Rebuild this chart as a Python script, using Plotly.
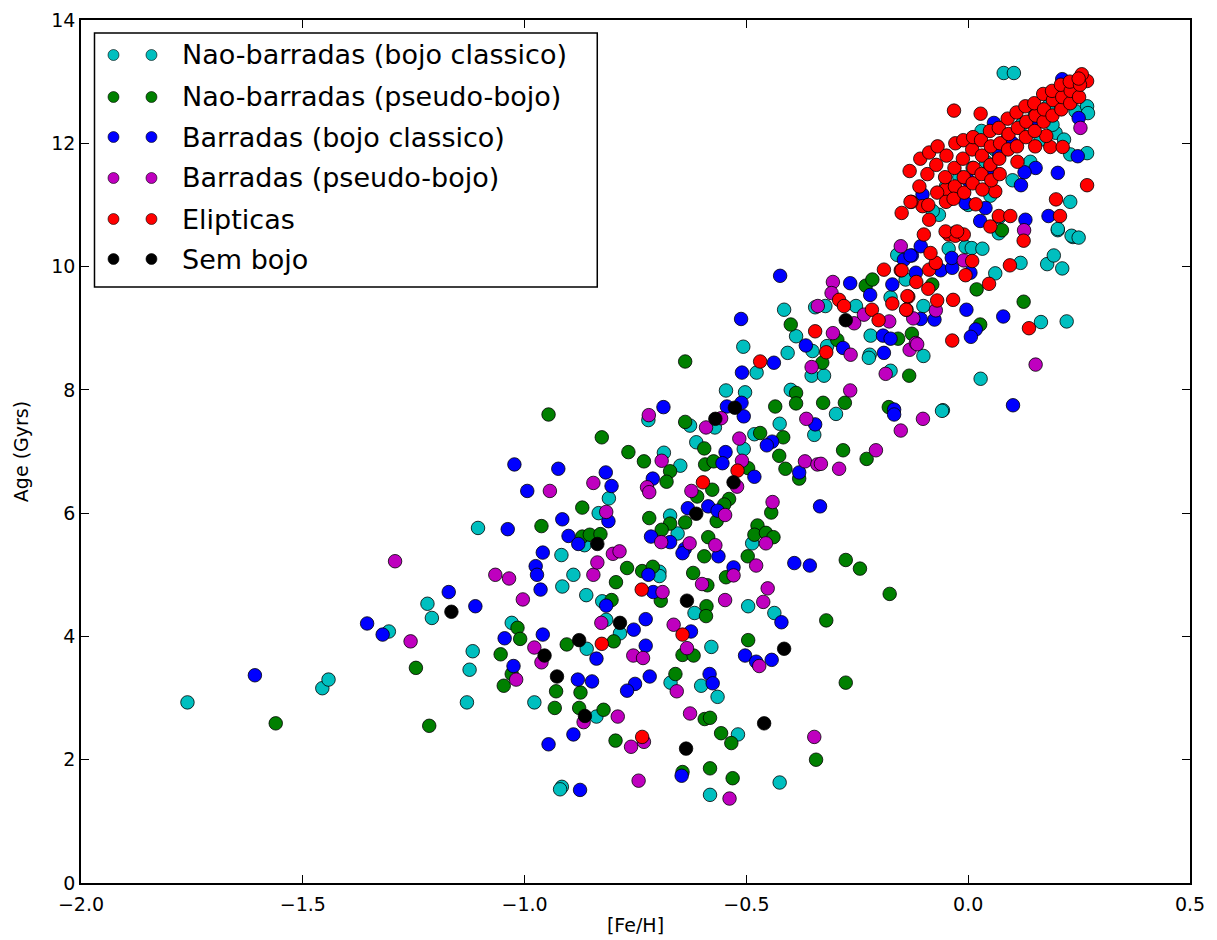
import plotly.graph_objects as go

# ---------------- data ----------------
cyan_x = [-1.760, -1.456, -1.442, -1.306, -1.219, -1.209, -1.105, -1.117, -1.124, -1.130, -0.810, -0.833, -0.865, -0.917,
          -0.890, -0.915, -0.861, -0.825, -1.029, -0.860, -0.978, -0.838, -0.916, -0.920,
          -0.546, -0.503, -0.400, -0.721, -0.627, -0.571, -0.347, -0.425, -0.482, -0.506, -0.686, -0.649, -0.613, -0.672,
          -0.655, -0.487, -0.696, -0.696, -0.617, -0.496, -0.437, -0.816, -0.785, -0.579, -0.671, -0.602, -0.565, -0.519,
          -0.425, -0.582, -0.298, -0.057, -0.415, -0.388, -0.507, -0.407, -0.477, -0.351, -0.318, -0.353, -0.325, -0.175,
          -0.222, -0.224, -0.220, -0.345, -0.322, -0.253, -0.175, -0.160, -0.141, 0.118, 0.178, 0.193, 0.212, 0.202,
          0.236, 0.061, 0.164, 0.028, -0.059, -0.101, -0.101, -0.044, -0.006, 0.008, 0.032, 0.069, 0.080, 0.103,
          0.242, 0.268, 0.270, 0.197, 0.216, 0.163, 0.230, 0.268, 0.230, 0.202, 0.233, -0.066, 0.249, 0.222,
          -0.05, -0.02, 0.01, 0.04, 0.06, 0.09, 0.12, 0.15, 0.18, 0.21, 0.00, 0.05, 0.10, 0.14, 0.19, -0.08, 0.03, 0.07, -0.03]
cyan_y = [2.93, 3.16, 3.30, 4.08, 4.53, 4.30, 5.76, 3.76, 3.46, 2.93, 6.24, 6.00, 5.48, 5.32,
          5.00, 4.81, 4.67, 4.57, 4.22, 3.80, 2.93, 2.70, 1.56, 1.52,
          7.99, 7.96, 8.00, 7.51, 7.42, 7.39, 7.27, 7.45, 7.28, 7.04, 6.98, 6.77, 7.15, 5.96,
          5.67, 5.51, 5.05, 4.98, 4.38, 4.49, 4.38, 4.27, 4.05, 3.83, 3.25, 3.20, 3.02, 2.41,
          1.63, 1.43, 7.61, 7.67, 9.30, 8.87, 8.70, 8.60, 8.28, 8.63, 8.71, 8.23, 8.23, 8.31,
          8.57, 8.52, 8.88, 9.34, 9.36, 9.36, 9.50, 10.19, 9.79, 10.06, 10.04, 10.18, 9.97, 10.59,
          10.48, 9.89, 9.10, 8.18, 7.66, 8.55, 9.36, 10.29, 10.32, 10.30, 10.29, 10.54, 13.14, 13.14,
          12.52, 12.60, 12.49, 12.17, 12.06, 12.06, 11.82, 11.84, 11.05, 10.61, 10.50, 10.84, 10.47, 9.11,
          11.30, 11.45, 11.60, 11.70, 11.90, 12.10, 12.30, 12.45, 12.60, 12.75, 11.00, 11.15, 11.40, 11.70, 12.30, 10.90, 12.20, 10.80, 10.55]

green_x = [-1.561, -1.245, -1.215, -0.946, -0.826, -0.870, -0.962, -0.870, -0.853, -0.829, -0.794, -0.804, -1.016, -1.010,
           -1.054, -1.029, -1.047, -0.905, -0.799, -0.929, -0.874, -0.932, -0.877, -0.822, -0.795,
           -0.388, -0.388, -0.435, -0.638, -0.417, -0.469, -0.766, -0.731, -0.672, -0.680, -0.595, -0.593, -0.574, -0.496,
           -0.611, -0.577, -0.426, -0.412, -0.381, -0.719, -0.672, -0.638, -0.539, -0.550, -0.567, -0.444, -0.691, -0.586,
           -0.475, -0.482, -0.456, -0.439, -0.595, -0.497,
           -0.769, -0.735, -0.711, -0.693, -0.620, -0.546, -0.588, -0.590, -0.591, -0.644, -0.619, -0.496, -0.660, -0.594,
           -0.582, -0.557, -0.534, -0.343, -0.644, -0.582, -0.531,
           -0.327, -0.278, -0.179, -0.282, -0.229, -0.276, -0.244, -0.177, -0.320, -0.276,
           -0.400, -0.295, -0.329, -0.133, -0.158, -0.127, -0.231, -0.216,
           0.019, 0.125, 0.027, -0.081, 0.076, -0.638]
green_y = [2.59, 3.49, 2.55, 7.60, 7.23, 6.09, 5.79, 5.62, 5.65, 5.66, 4.88, 4.59, 4.14, 3.96,
           3.71, 3.39, 3.20, 3.87, 3.92, 3.11, 3.09, 2.84, 2.84, 2.81, 2.31,
           7.95, 7.78, 7.73, 7.48, 7.23, 7.30, 6.99, 6.84, 6.68, 6.51, 7.05, 6.79, 6.84, 6.73,
           6.27, 6.38, 6.93, 6.72, 6.56, 5.92, 5.83, 5.85, 6.23, 6.14, 5.87, 6.01, 5.73, 5.61,
           5.80, 5.65, 5.68, 5.61, 5.30, 5.30,
           5.11, 5.06, 5.13, 4.58, 5.03, 4.96, 4.83, 4.49, 4.33, 3.70, 3.69, 3.94, 3.39, 2.66,
           2.68, 2.43, 2.27, 2.00, 1.80, 1.86, 1.70,
           7.79, 7.79, 7.72, 7.02, 6.88, 5.24, 5.10, 4.69, 4.26, 3.25,
           9.06, 8.81, 8.44, 8.23, 8.83, 8.91, 9.69, 9.79,
           9.63, 9.43, 9.06, 9.71, 10.59, 8.46]

blue_x = [-1.608, -1.355, -1.320, -1.171, -1.111, -1.023, -0.924, -0.817, -0.804, -0.994, -0.811, -1.038, -0.915, -0.901,
          -0.879, -0.959, -0.975, -0.972, -0.964, -0.816, -1.045, -0.959, -1.025, -0.838, -0.880, -0.848, -0.890, -0.946,
          -0.875,
          -0.687, -0.544, -0.511, -0.506, -0.345, -0.442, -0.454, -0.547, -0.554, -0.482, -0.381, -0.711, -0.632, -0.586,
          -0.565, -0.715, -0.672, -0.639, -0.644, -0.563,
          -0.721, -0.710, -0.529, -0.421, -0.392, -0.357, -0.727, -0.754, -0.727, -0.625, -0.503, -0.478, -0.443, -0.718,
          -0.751, -0.769, -0.583, -0.576, -0.646,
          -0.167, -0.167, -0.334,
          -0.424, -0.512, -0.438, -0.510, -0.366, -0.282, -0.190, -0.192, -0.175, -0.266, -0.221, -0.171, -0.145, -0.127,
          -0.004, 0.079, 0.017, 0.006, 0.101, -0.107, -0.076, -0.118, -0.062, -0.036, 0.005, -0.037, -0.107, -0.130,
          0.058, 0.212, 0.249, 0.247, 0.152, 0.127, 0.202, 0.119, 0.181, 0.129, 0.027, -0.006, 0.039, -0.103,
          0.00, 0.05, 0.10, 0.15, 0.20, -0.04, 0.17, 0.07, 0.23]
blue_y = [3.37, 4.21, 4.03, 4.72, 4.49, 6.79, 6.72, 6.66, 6.44, 6.36, 5.87, 5.74, 5.90, 5.63,
          5.50, 5.36, 5.14, 5.00, 4.76, 4.50, 3.97, 4.03, 3.52, 3.64, 3.30, 3.27, 2.41, 2.25,
          1.51,
          7.72, 7.73, 7.79, 7.57, 7.44, 7.16, 7.10, 6.99, 6.81, 6.59, 6.66, 6.56, 6.08, 6.11,
          6.04, 5.62, 5.53, 5.42, 5.35, 5.30,
          5.00, 4.72, 5.12, 4.23, 5.19, 5.15, 4.28, 4.11, 3.85, 4.08, 3.69, 3.59, 3.62, 3.35,
          3.23, 3.12, 3.39, 3.24, 1.74,
          7.68, 7.60, 6.11,
          9.85, 9.15, 8.44, 8.28, 8.72, 8.68, 8.60, 8.88, 8.83, 9.73, 9.54, 9.71, 10.11, 10.18,
          9.30, 9.19, 8.98, 8.86, 7.75, 9.15, 9.14, 9.90, 9.94, 9.98, 9.90, 10.14, 10.33, 10.18,
          12.33, 13.04, 12.41, 11.79, 11.60, 11.53, 11.52, 11.32, 10.82, 10.76, 10.74, 11.03, 10.95, 11.17,
          11.40, 11.60, 12.00, 12.30, 12.80, 11.10, 12.50, 11.80, 12.90]

magenta_x = [-1.292, -1.257, -0.845, -0.943, -0.816, -0.801, -1.066, -1.035, -0.845, -0.836, -1.004, -0.978, -0.962, -1.019,
             -0.867, -0.790,
             -0.720, -0.591, -0.557, -0.365, -0.516, -0.691, -0.510, -0.521, -0.624, -0.368, -0.340, -0.724, -0.719, -0.548,
             -0.441, -0.692, -0.628, -0.570, -0.456, -0.786,
             -0.689, -0.529, -0.478, -0.600, -0.548, -0.452, -0.462, -0.827, -0.755, -0.733, -0.664, -0.634, -0.471, -0.657,
             -0.627, -0.760, -0.731, -0.347, -0.743, -0.538,
             -0.102, -0.152, -0.208, -0.332, -0.291,
             -0.265, -0.305, -0.353, -0.266, -0.186, -0.132, -0.118, -0.339, -0.305, -0.308, -0.257, -0.235, -0.178, -0.152,
             0.152, -0.115, -0.124, -0.073, -0.010, 0.253, 0.126]
magenta_y = [5.22, 3.92, 6.49, 6.36, 6.02, 5.34, 5.00, 4.94, 5.00, 5.20, 4.60, 3.82, 3.58, 3.30,
             2.61, 2.70,
             7.59, 7.39, 7.54, 7.53, 7.21, 6.85, 6.85, 6.43, 6.36, 6.84, 6.79, 6.42, 6.34, 5.97,
             6.18, 5.53, 5.51, 5.48, 5.51, 5.38,
             4.72, 4.99, 5.15, 4.85, 4.59, 4.78, 4.56, 4.22, 3.69, 3.65, 4.19, 3.81, 3.52, 3.11,
             2.75, 2.21, 2.29, 2.37, 1.66, 1.37,
             7.53, 7.34, 7.02, 6.80, 6.72,
             8.57, 8.92, 8.37, 7.99, 8.26, 8.65, 8.76, 9.36, 9.75, 9.57, 9.08, 9.22, 9.11, 10.33,
             8.41, 8.74, 9.16, 9.29, 10.10, 12.25, 10.59]

red_x = [-0.826, -0.520, -0.598, -0.736, -0.644, -0.735, -0.469, -0.345, -0.320, -0.291, -0.280, -0.190, -0.152, -0.217,
         -0.202, -0.171, -0.135, -0.139, 0.094, 0.125, 0.047, -0.034, 0.137, -0.036, -0.070, -0.137, -0.140, -0.090,
         -0.117, -0.088, -0.006, 0.009, -0.073, -0.085, -0.100, -0.044, -0.029, -0.010, -0.150, -0.032, 0.028, 0.268,
         0.198, 0.207, 0.050, 0.069, 0.095, 0.061, 0.017, -0.103, -0.088, -0.051, -0.025, -0.051, 0.185, 0.213,
         0.176, 0.268, 0.256, -0.150, -0.128,
         -0.13, -0.132, -0.11, -0.108, -0.09, -0.092, -0.088, -0.07, -0.072, -0.069, -0.05, -0.052, -0.049,
         -0.03, -0.031, -0.029, -0.033, -0.01, -0.012, -0.009, -0.011, 0.01, 0.012, 0.009, 0.011,
         0.03, 0.031, 0.029, 0.032, 0.05, 0.051, 0.049, 0.052, 0.07, 0.072, 0.069, 0.071,
         0.09, 0.091, 0.089, 0.11, 0.112, 0.109, 0.111, 0.13, 0.131, 0.129,
         0.15, 0.152, 0.149, 0.151, 0.17, 0.171, 0.169, 0.19, 0.191, 0.189,
         0.21, 0.212, 0.209, 0.23, 0.231, 0.229, 0.25, 0.252, 0.249]
red_y = [3.88, 6.69, 6.50, 4.76, 4.03, 2.37, 8.46, 8.95, 8.61, 9.46, 9.36, 9.95, 9.94, 9.30,
         9.13, 9.40, 9.51, 9.30, 10.02, 10.42, 9.72, 9.46, 9.00, 8.80, 9.45, 9.52, 9.30, 9.64,
         9.75, 9.95, 9.86, 10.09, 10.06, 10.22, 10.52, 10.52, 10.50, 10.52, 9.94, 12.53, 12.48, 11.32,
         11.09, 10.82, 10.65, 10.82, 10.82, 11.22, 11.01, 10.98, 10.76, 10.57, 10.57, 11.25, 11.94, 11.94,
         12.12, 13.01, 13.12, 10.87, 11.05,
         11.05, 11.55, 11.30, 11.75, 11.00, 11.50, 11.85, 11.20, 11.65, 11.95, 11.05, 11.45, 11.80,
         11.30, 11.60, 12.00, 11.10, 11.45, 11.75, 11.20, 12.05, 11.35, 11.60, 11.90, 12.10,
         11.50, 11.80, 12.05, 11.25, 11.65, 11.95, 12.20, 11.40, 11.75, 12.00, 12.25, 11.50,
         11.90, 12.15, 12.40, 11.95, 12.25, 12.50, 11.70, 12.10, 12.35, 12.60,
         12.20, 12.45, 12.65, 11.95, 12.35, 12.55, 12.80, 12.45, 12.70, 12.85,
         12.55, 12.75, 12.95, 12.65, 12.85, 13.00, 12.75, 12.95, 13.05]

black_x = [-1.165, -0.836, -0.955, -0.877, -0.927, -0.864, -0.526, -0.570, -0.529, -0.613, -0.634, -0.785, -0.415, -0.460,
           -0.636, -0.276]
black_y = [4.40, 5.50, 3.69, 3.94, 3.35, 2.71, 7.71, 7.53, 6.50, 5.99, 4.58, 4.22, 3.80, 2.59,
           2.18, 9.13]

series_names = ["Nao-barradas (bojo classico)", "Nao-barradas (pseudo-bojo)", "Barradas (bojo classico)",
                "Barradas (pseudo-bojo)", "Elipticas", "Sem bojo"]
series_colors = ["#00BFBF", "#008000", "#0000FF", "#BF00BF", "#FF0000", "#000000"]
series_data = [(cyan_x, cyan_y), (green_x, green_y), (blue_x, blue_y), (magenta_x, magenta_y),
               (red_x, red_y), (black_x, black_y)]

x_ticks = [-2.0, -1.5, -1.0, -0.5, 0.0, 0.5]
y_ticks = [0, 2, 4, 6, 8, 10, 12, 14]

# ---------------- figure ----------------
W, H = 1217, 940
L, R, T, B = 80.5, 27, 20, 57
pw, ph = W - L - R, H - T - B

fig = go.Figure()
for (xs, ys), name, col in zip(series_data, series_names, series_colors):
    fig.add_trace(go.Scatter(x=xs, y=ys, mode="markers", name=name, showlegend=False,
                             marker=dict(size=13.5, color=col, line=dict(color="#000000", width=0.8))))

font = "DejaVu Sans, Bitstream Vera Sans, sans-serif"

# custom legend (two markers per entry, like matplotlib numpoints=2)
def px2paper(px, py):
    return (px - L) / pw, (H - B - py) / ph

shapes = []
annotations = []
x0, y0 = px2paper(94, 33)
x1, y1 = px2paper(597, 287)
shapes.append(dict(type="rect", xref="paper", yref="paper", x0=x0, y0=y1, x1=x1, y1=y0,
                   line=dict(color="#000000", width=1.5), fillcolor="white", layer="above"))
row_y = [55, 97, 137, 178, 219, 259]
r = 5.5
for i, (name, col) in enumerate(zip(series_names, series_colors)):
    for mx in (113, 151):
        a0, b0 = px2paper(mx - r, row_y[i] + r)
        a1, b1 = px2paper(mx + r, row_y[i] - r)
        shapes.append(dict(type="circle", xref="paper", yref="paper", x0=a0, y0=b0, x1=a1, y1=b1,
                           fillcolor=col, line=dict(color="#000000", width=0.6), layer="above"))
    tx, ty = px2paper(180, row_y[i])
    annotations.append(dict(xref="paper", yref="paper", x=tx, y=ty, text=name, showarrow=False,
                            xanchor="left", yanchor="middle", font=dict(family=font, size=27, color="#000000")))

fig.update_layout(
    width=W, height=H,
    margin=dict(l=L, r=R, t=T, b=B, pad=0),
    paper_bgcolor="white", plot_bgcolor="white",
    font=dict(family=font, size=19, color="#000000"),
    shapes=shapes, annotations=annotations,
    showlegend=False,
)
fig.update_xaxes(range=[-2.0, 0.5], tickvals=x_ticks, tickformat=".1f", ticks="inside", ticklen=8,
                 tickwidth=1, tickcolor="#000000", showline=True, linecolor="#000000", linewidth=1.5,
                 mirror="allticks", showgrid=False, zeroline=False, tickfont=dict(size=19), automargin=False,
                 ticklabelstandoff=3,
                 title=dict(text="[Fe/H]", font=dict(size=19), standoff=5))
fig.update_yaxes(range=[0, 14], tickvals=y_ticks, ticks="inside", ticklen=8,
                 tickwidth=1, tickcolor="#000000", showline=True, linecolor="#000000", linewidth=1.5,
                 mirror="allticks", showgrid=False, zeroline=False, tickfont=dict(size=19), automargin=False,
                 title=dict(text="Age (Gyrs)", font=dict(size=19), standoff=18))

fig.write_html("out.html")
